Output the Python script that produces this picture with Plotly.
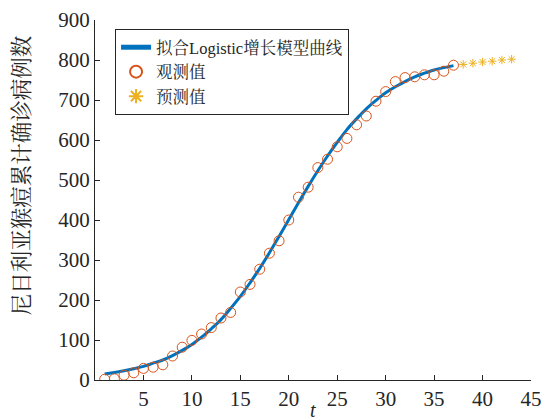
import plotly.graph_objects as go

# Observed values (t = 1..37)
t_obs = list(range(1, 38))
y_obs = [2, 3, 12, 18, 29, 32, 38, 60, 82, 99, 115, 131, 155, 169, 220, 239,
         277, 317, 348, 400, 457, 482, 531, 552, 583, 604, 638, 660, 697, 721,
         746, 756, 758, 763, 763, 772, 787]

# Predicted values (t = 38..43)
t_pred = list(range(38, 44))
y_pred = [789, 792, 795, 797, 800, 802]

# Fitted logistic curve, read at t = 1..37
t_fit = list(range(1, 38))
y_fit = [15, 19, 23, 28, 34, 42, 50, 61, 74, 89, 107, 128, 151, 179, 209, 243,
         279, 318, 359, 401, 443, 484, 523, 560, 594, 626, 653, 678, 699, 718,
         733, 746, 758, 767, 775, 781, 786]

x_ticks = [5, 10, 15, 20, 25, 30, 35, 40, 45]
y_ticks = [0, 100, 200, 300, 400, 500, 600, 700, 800, 900]

FONT = "Liberation Serif, Times New Roman, Noto Serif CJK SC, Noto Sans CJK SC"

fig = go.Figure()
fig.add_trace(go.Scatter(x=t_fit, y=y_fit, mode="lines", name="拟合Logistic增长模型曲线",
                         line=dict(color="#0072BD", width=3, shape="spline")))
fig.add_trace(go.Scatter(x=t_obs, y=y_obs, mode="markers", name="观测值",
                         marker=dict(symbol="circle-open", size=10, color="#D95319",
                                     line=dict(width=1, color="#D95319"))))
fig.add_trace(go.Scatter(x=t_pred, y=y_pred, mode="markers", name="预测值",
                         marker=dict(symbol="asterisk-open", size=7, color="#EDB120",
                                     line=dict(width=1, color="#EDB120"))))

fig.update_layout(
    width=541, height=420,
    margin=dict(l=95, r=10, t=20, b=40),
    paper_bgcolor="white", plot_bgcolor="white",
    font=dict(family=FONT, size=21, color="#262626"),
    showlegend=True,
    legend=dict(x=0.046, y=0.975, xanchor="left", yanchor="top",
                bordercolor="#262626", borderwidth=1, bgcolor="white",
                font=dict(size=16.5, family=FONT, color="#262626"),
                tracegroupgap=0, itemsizing="constant"),
    xaxis=dict(range=[0, 45], tickvals=x_ticks, showgrid=False, zeroline=False,
               showline=True, linecolor="#262626", linewidth=1, automargin=False,
               ticks="inside", ticklen=5, tickcolor="#262626",
               ticklabeloverflow="allow"),
    yaxis=dict(range=[0, 900], tickvals=y_ticks, showgrid=False, zeroline=False,
               showline=True, linecolor="#262626", linewidth=1, automargin=False,
               ticks="inside", ticklen=5, tickcolor="#262626"),
    annotations=[
        dict(text="尼日利亚猴痘累计确诊病例数", textangle=-90,
             xref="paper", yref="paper", x=-0.168, y=0.568,
             xanchor="center", yanchor="middle", showarrow=False,
             font=dict(size=21.5, family=FONT, color="#262626")),
        dict(text="<i>t</i>", xref="paper", yref="paper", x=0.5, y=-0.083,
             xanchor="center", yanchor="middle", showarrow=False,
             font=dict(size=20, family=FONT, color="#262626")),
    ],
)

fig.write_html("out.html", config={"displayModeBar": False},
               post_script="document.body.style.margin='0';document.body.style.overflow='hidden';")
